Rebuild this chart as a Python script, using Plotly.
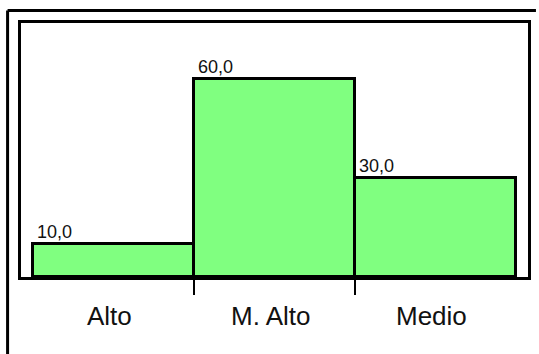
import plotly.graph_objects as go

# Data
categories = ["Alto", "M. Alto", "Medio"]
values = [10.0, 60.0, 30.0]
value_labels = ["10,0", "60,0", "30,0"]

positions = list(range(len(categories)))
boundaries = [p + 0.5 for p in positions[:-1]]

W, H = 539, 354
ML, MR, MT, MB = 21, 8, 23, 77
PLOT_W, PLOT_H = W - ML - MR, H - MT - MB
pad = 12 / 162  # space between the outer bars and the frame, in category units
x_range = [-0.5 - pad, len(categories) - 0.5 + pad]
y_range = [0, 77]
FONT = "Liberation Sans, Arial, sans-serif"

fig = go.Figure()

fig.add_trace(go.Bar(
    x=positions,
    y=values,
    width=1.0,
    marker=dict(color="#80ff80", line=dict(color="black", width=3)),
    hoverinfo="skip",
))

# value labels sit on the top-left corner of each bar
for p, v, t in zip(positions, values, value_labels):
    fig.add_annotation(
        x=p - 0.5, y=v, xref="x", yref="y",
        text=t, showarrow=False,
        xanchor="left", yanchor="bottom",
        xshift=2, yshift=0,
        font=dict(family=FONT, size=18, color="#111111"),
    )

# category names centred under each bar
for p, c in zip(positions, categories):
    fig.add_annotation(
        x=p, y=0, xref="x", yref="paper",
        text=c, showarrow=False,
        xanchor="center", yanchor="top",
        xshift=-4, yshift=-22,
        font=dict(family=FONT, size=26, color="#111111"),
    )

# outer chart border: its top and left edges run to the page edges
bx0 = -13.5 / PLOT_W
by1 = 1 + 12.5 / PLOT_H
right_edge = (W - ML) / PLOT_W
bottom_edge = -MB / PLOT_H
border = dict(color="black", width=3)
shapes = [
    dict(type="line", xref="paper", yref="paper",
         x0=bx0, x1=right_edge, y0=by1, y1=by1, line=border),
    dict(type="line", xref="paper", yref="paper",
         x0=bx0, x1=bx0, y0=by1, y1=bottom_edge, line=border),
]

fig.update_layout(
    width=W, height=H,
    margin=dict(l=ML, r=MR, t=MT, b=MB),
    paper_bgcolor="white",
    plot_bgcolor="white",
    showlegend=False,
    bargap=0,
    xaxis=dict(
        range=x_range,
        tickmode="array", tickvals=boundaries,
        ticks="outside", ticklen=15, tickwidth=2, tickcolor="black",
        showticklabels=False,
        showgrid=False, zeroline=False,
        showline=True, linewidth=3, linecolor="black", mirror=True,
        fixedrange=True,
    ),
    yaxis=dict(
        range=y_range,
        showticklabels=False, ticks="",
        showgrid=False, zeroline=False,
        showline=True, linewidth=3, linecolor="black", mirror=True,
        fixedrange=True,
    ),
    shapes=shapes,
)

fig.write_html("out.html")
